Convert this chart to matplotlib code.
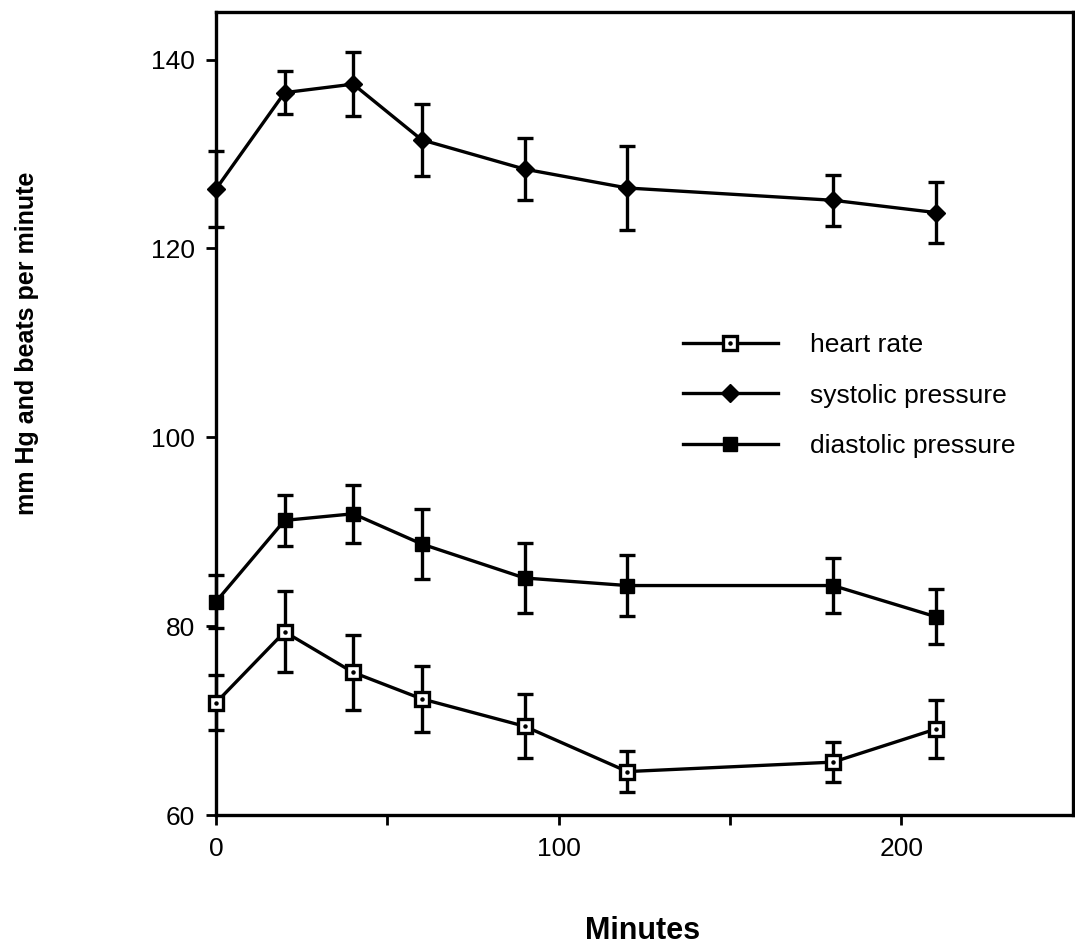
import matplotlib.pyplot as plt
from matplotlib.legend_handler import HandlerTuple

plt.rcParams['font.family'] = ['Liberation Sans', 'DejaVu Sans']

# time points (minutes)
minutes = [0, 20, 40, 60, 90, 120, 180, 210]

# systolic pressure, mean and error
systolic = [126.3, 136.5, 137.4, 131.5, 128.4, 126.4, 125.1, 123.8]
systolic_err = [4.0, 2.3, 3.4, 3.8, 3.3, 4.4, 2.7, 3.2]

# diastolic pressure
diastolic = [82.6, 91.2, 91.9, 88.7, 85.1, 84.3, 84.3, 81.0]
diastolic_err = [2.8, 2.7, 3.1, 3.7, 3.7, 3.2, 2.9, 2.9]

# heart rate
heart_rate = [71.9, 79.4, 75.1, 72.3, 69.4, 64.6, 65.6, 69.1]
heart_rate_err = [2.9, 4.3, 4.0, 3.5, 3.4, 2.2, 2.1, 3.1]

fig = plt.figure(figsize=(10.75, 9.51), dpi=100)
ax = fig.add_axes([0.201, 0.143, 0.797, 0.844])

err_kw = dict(ecolor='black', elinewidth=2.4, capsize=5.5, capthick=2.4, clip_on=False)

ax.errorbar(minutes, systolic, yerr=systolic_err, fmt='none', **err_kw)
ax.errorbar(minutes, diastolic, yerr=diastolic_err, fmt='none', **err_kw)
ax.errorbar(minutes, heart_rate, yerr=heart_rate_err, fmt='none', **err_kw)

hr_line, = ax.plot(minutes, heart_rate, color='black', lw=2.4, marker='s', ms=9.5,
                   mfc='white', mec='black', mew=2.4, clip_on=False, zorder=3)
hr_dot, = ax.plot(minutes, heart_rate, ls='none', marker='o', ms=2.2, color='black',
                  clip_on=False, zorder=4)
sys_line, = ax.plot(minutes, systolic, color='black', lw=2.4, marker='D', ms=9,
                    mfc='black', mec='black', clip_on=False, zorder=3)
dia_line, = ax.plot(minutes, diastolic, color='black', lw=2.4, marker='s', ms=9.5,
                    mfc='black', mec='black', clip_on=False, zorder=3)

ax.set_xlim(0, 250)
ax.set_ylim(60, 145)
ax.set_xticks([0, 100, 200])
ax.set_xticks([50, 150], minor=True)
ax.set_yticks([60, 80, 100, 120, 140])
ax.tick_params(axis='both', which='both', direction='out', length=7, width=2,
               labelsize=19, pad=8)
ax.tick_params(axis='x', which='minor', length=7, width=2)
ax.tick_params(axis='x', pad=9)
for s in ax.spines.values():
    s.set_linewidth(2.4)

leg = ax.legend([(hr_line, hr_dot), sys_line, dia_line],
                ['heart rate', 'systolic pressure', 'diastolic pressure'],
                handler_map={tuple: HandlerTuple(ndivide=1)},
                loc='center left', bbox_to_anchor=(0.623, 0.584),
                bbox_transform=fig.transFigure, frameon=False, fontsize=19,
                handlelength=3.6, handletextpad=1.2, labelspacing=1.0, borderpad=0)

fig.text(643 / 1075, 1 - 931 / 951, 'Minutes', fontsize=22, fontweight='bold',
         ha='center', va='center')
fig.text(27 / 1075, 1 - 343 / 951, 'mm Hg and beats per minute', fontsize=18,
         fontweight='bold', rotation=90, ha='center', va='center')

fig.savefig('out.png', dpi=100)
